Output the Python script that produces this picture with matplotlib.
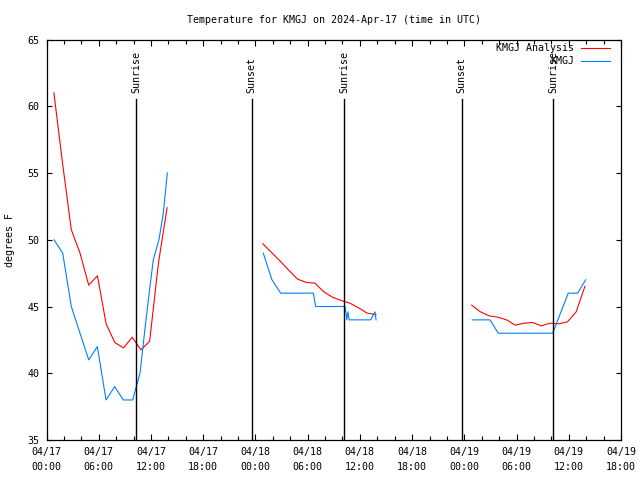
import matplotlib
matplotlib.use("Agg")
import matplotlib.pyplot as plt
from matplotlib.ticker import FixedLocator, MultipleLocator

# hours since 2024-04-17 00:00 UTC
ana_t1 = [0.85 + k for k in range(14)]
ana_v1 = [61.0, 55.7, 50.75, 49.0, 46.6, 47.3, 43.7, 42.3, 41.9, 42.7, 41.75, 42.4, 48.2, 52.4]
ana_t2 = [24.85 + k for k in range(14)]
ana_v2 = [49.7, 49.05, 48.4, 47.7, 47.05, 46.8, 46.75, 46.1, 45.7, 45.45, 45.25, 44.9, 44.5, 44.4]
ana_t3 = [48.85 + k for k in range(14)]
ana_v3 = [45.1, 44.6, 44.3, 44.2, 44.0, 43.6, 43.75, 43.8, 43.55, 43.75, 43.7, 43.85, 44.6, 46.5]

obs_t1 = [0.86, 1.86, 2.85, 3.85, 4.85, 5.84, 6.84, 7.83, 8.82, 9.9, 10.74, 11.43, 11.89, 12.27, 12.92, 13.42, 13.88]
obs_v1 = [50, 49, 45, 43, 41, 42, 38, 39, 38, 38, 40, 44, 46.5, 48.5, 50, 52, 55]
obs_t2 = [24.9, 25.9, 26.9, 30.65, 30.92, 34.3, 34.5, 34.62, 34.78, 37.24, 37.74, 37.86]
obs_v2 = [49, 47, 46, 46, 45, 45, 44, 44.6, 44, 44, 44.6, 44]
obs_t3 = [48.91, 50.95, 51.9, 58.15, 59.94, 61.02, 61.94]
obs_v3 = [44, 44, 43, 43, 46, 46, 47]

sun_t = [10.28, 23.57, 34.21, 47.70, 58.22]
sun_lbl = ["Sunrise", "Sunset", "Sunrise", "Sunset", "Sunrise"]

xtick_pos = list(range(0, 67, 6))
xtick_lbl = ["04/17\n00:00", "04/17\n06:00", "04/17\n12:00", "04/17\n18:00",
             "04/18\n00:00", "04/18\n06:00", "04/18\n12:00", "04/18\n18:00",
             "04/19\n00:00", "04/19\n06:00", "04/19\n12:00", "04/19\n18:00"]

FONT = "DejaVu Sans Mono"
FS = 7.2
plt.rcParams['font.family'] = [FONT]

fig = plt.figure(figsize=(6.4, 4.8), dpi=100)
W, H = 640, 480
L, R, T, B = 46.5, 621, 39.5, 440
ax = fig.add_axes([L / W, 1 - B / H, (R - L) / W, (B - T) / H])

red = "#ff0000"
blue = "#0080ff"
lw = 0.8

ax.plot(ana_t1, ana_v1, color=red, lw=lw, label="KMGJ Analysis")
ax.plot(ana_t2, ana_v2, color=red, lw=lw)
ax.plot(ana_t3, ana_v3, color=red, lw=lw)
ax.plot(obs_t1, obs_v1, color=blue, lw=lw, label="KMGJ")
ax.plot(obs_t2, obs_v2, color=blue, lw=lw)
ax.plot(obs_t3, obs_v3, color=blue, lw=lw)

line_top = (B - 99) / (B - T)
txt_bot = (B - 93) / (B - T)
for t, s in zip(sun_t, sun_lbl):
    ax.axvline(t, ymin=0, ymax=line_top, color="black", lw=1.0)
    ax.text(t, txt_bot, s, rotation=90, ha="center", va="bottom",
            transform=ax.get_xaxis_transform(), fontsize=FS, family=FONT)

ax.set_xlim(0, 66)
ax.set_ylim(35, 65)
ax.set_xticks(xtick_pos)
ax.set_xticklabels(xtick_lbl, fontsize=FS, family=FONT, linespacing=1.6)
ax.xaxis.set_minor_locator(MultipleLocator(2))
ax.yaxis.set_major_locator(MultipleLocator(5))
ax.tick_params(axis="both", which="both", direction="in", top=True, right=True,
               labelsize=FS, width=0.8, colors="black")
ax.tick_params(axis="x", which="major", length=4.5, pad=5)
ax.tick_params(axis="x", which="minor", length=3)
ax.tick_params(axis="y", which="major", length=3.5, pad=5)
for sp in ax.spines.values():
    sp.set_linewidth(0.9)

ax.set_ylabel("degrees F", fontsize=FS, family=FONT)
ax.yaxis.set_label_coords((10 - L) / (R - L), 0.5)
ax.yaxis.label.set_va("center")

ax.text(0.5, (B - 20) / (B - T), "Temperature for KMGJ on 2024-Apr-17 (time in UTC)",
        transform=ax.transAxes, ha="center", va="center", fontsize=FS, family=FONT)

leg = ax.legend(loc="upper right", bbox_to_anchor=((610 - L) / (R - L), (B - 43) / (B - T)),
                frameon=False, markerfirst=False, handlelength=2.9, handletextpad=0.7,
                labelspacing=0.35, borderpad=0, borderaxespad=0,
                prop={"family": FONT, "size": FS})

fig.savefig("out.png", dpi=100)
